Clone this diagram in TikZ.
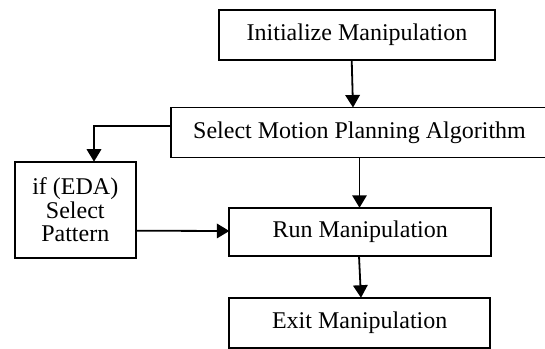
\documentclass[tikz,border=0pt]{standalone}
\usepackage{fontspec}
\setmainfont{Liberation Serif}
\usetikzlibrary{arrows.meta,calc}
\begin{document}
\begin{tikzpicture}[x=1pt,y=-1pt,
  box/.style={draw=black, line width=1.8pt, inner sep=0pt, outer sep=0pt,
    align=center, font=\fontsize{24}{23.3}\selectfont},
  arr/.style={line width=1.8pt, -{Triangle[length=12.5pt,width=14.5pt]}}]
\useasboundingbox (0,0) rectangle (545,348);
\node[box, minimum width=276pt, minimum height=50pt] (init) at (357,35) {Initialize Manipulation};
\node[box, minimum width=377pt, minimum height=50pt] (select) at (359.5,132.5) {Select Motion Planning Algorithm};
\node[box, minimum width=120.7pt, minimum height=96pt] (eda) at (75.3,209.7) {if (EDA)\\Select\\Pattern};
\node[box, minimum width=261.7pt, minimum height=48.3pt] (run) at (360.2,231.9) {Run Manipulation};
\node[box, minimum width=260.7pt, minimum height=50pt] (exit) at (359.7,322.7) {Exit Manipulation};
\draw[arr] ($(init.south)+(-5.3,0)$) -- ($(select.north)+(-6.5,0)$);
\draw[arr] ($(select.west)+(0,-6.5)$) -| ($(eda.north)+(18.7,0)$);
\draw[arr] (select.south) -- (select.south |- run.north);
\draw[arr] ($(eda.east)+(0,21)$) -- ($(run.west)+(0,-0.9)$);
\draw[arr] ($(run.south)+(-1.2,0)$) -- ($(exit.north)+(1.3,0)$);
\end{tikzpicture}
\end{document}
